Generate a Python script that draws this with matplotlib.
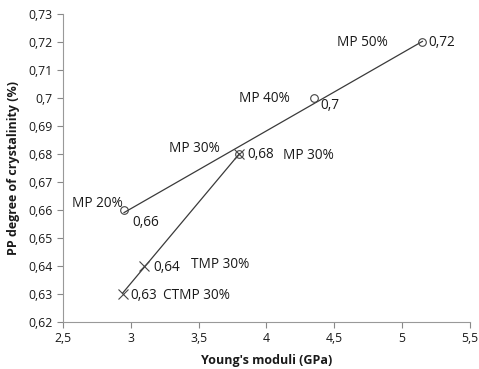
import numpy as np
import matplotlib
matplotlib.use("Agg")
import matplotlib.pyplot as plt

plt.rcParams['font.family'] = ['Open Sans', 'DejaVu Sans']

# MP series (circles)
mp_x = [2.95, 3.8, 4.35, 5.15]
mp_y = [0.66, 0.68, 0.70, 0.72]
mp_names = ["MP 20%", "MP 30%", "MP 40%", "MP 50%"]
mp_vals = ["0,66", "0,68", "0,7", "0,72"]

# Pulp series (crosses)
pulp_x = [2.94, 3.1, 3.8]
pulp_y = [0.63, 0.64, 0.68]
pulp_names = ["CTMP 30%", "TMP 30%", "MP 30%"]
pulp_vals = ["0,63", "0,64", "0,68"]

x_ticks = [2.5, 3.0, 3.5, 4.0, 4.5, 5.0, 5.5]
x_ticklabels = ["2,5", "3", "3,5", "4", "4,5", "5", "5,5"]
y_ticks = [0.62, 0.63, 0.64, 0.65, 0.66, 0.67, 0.68, 0.69, 0.70, 0.71, 0.72, 0.73]
y_ticklabels = ["0,62", "0,63", "0,64", "0,65", "0,66", "0,67", "0,68", "0,69", "0,7", "0,71", "0,72", "0,73"]

fig = plt.figure(figsize=(4.79, 3.69), dpi=100)
ax = fig.add_axes([0.1315, 0.1274, 0.8495, 0.8346])

line_col = '#3a3a3a'
# Linear trend lines
for xs, ys in [(mp_x, mp_y), (pulp_x, pulp_y)]:
    k, b = np.polyfit(xs, ys, 1)
    xx = np.array([min(xs), max(xs)])
    ax.plot(xx, k * xx + b, color=line_col, lw=0.9)

ax.plot(mp_x, mp_y, linestyle='none', marker='o', markersize=5.5,
        markerfacecolor='none', markeredgecolor='#444444', markeredgewidth=0.8)
ax.plot(pulp_x, pulp_y, linestyle='none', marker='x', markersize=6.5,
        color='#444444', markeredgewidth=0.8)

fs = 9.8
tc = '#1a1a1a'
# Name labels (offsets in data units relative to points)
name_off = [(-0.385, 0.0025), (-0.52, 0.0018), (-0.55, 0.0), (-0.63, 0.0)]
val_off = [(0.058, -0.0043), (0.056, 0.0), (0.044, -0.0025), (0.047, 0.0)]
for x, y, n, v, no, vo in zip(mp_x, mp_y, mp_names, mp_vals, name_off, val_off):
    ax.text(x + no[0], y + no[1], n, fontsize=fs, va='center', ha='left', color=tc)
    if n != "MP 30%":
        ax.text(x + vo[0], y + vo[1], v, fontsize=fs, va='center', ha='left', color=tc)

pname_off = [(0.297, -0.0007), (0.343, 0.0007), (0.32, -0.0004)]
pval_off = [(0.06, -0.0004), (0.063, -0.0004), (0.056, 0.0)]
for x, y, n, v, no, vo in zip(pulp_x, pulp_y, pulp_names, pulp_vals, pname_off, pval_off):
    ax.text(x + no[0], y + no[1], n, fontsize=fs, va='center', ha='left', color=tc)
    ax.text(x + vo[0], y + vo[1], v, fontsize=fs, va='center', ha='left', color=tc)

ax.set_xlim(2.5, 5.5)
ax.set_ylim(0.62, 0.73)
ax.set_xticks(x_ticks)
ax.set_xticklabels(x_ticklabels)
ax.set_yticks(y_ticks)
ax.set_yticklabels(y_ticklabels)
ax.tick_params(labelsize=8.8, colors='#888888', labelcolor='#1a1a1a', length=4, width=0.8)
for s in ['top', 'right']:
    ax.spines[s].set_visible(False)
for s in ['left', 'bottom']:
    ax.spines[s].set_color('#999999')
    ax.spines[s].set_linewidth(0.8)

ax.set_xlabel("Young's moduli (GPa)", fontsize=9, fontweight='bold', color=tc, labelpad=6)
ax.set_ylabel("PP degree of crystalinity (%)", fontsize=9, fontweight='bold', color=tc, labelpad=6)

fig.savefig("out.png", dpi=100)
